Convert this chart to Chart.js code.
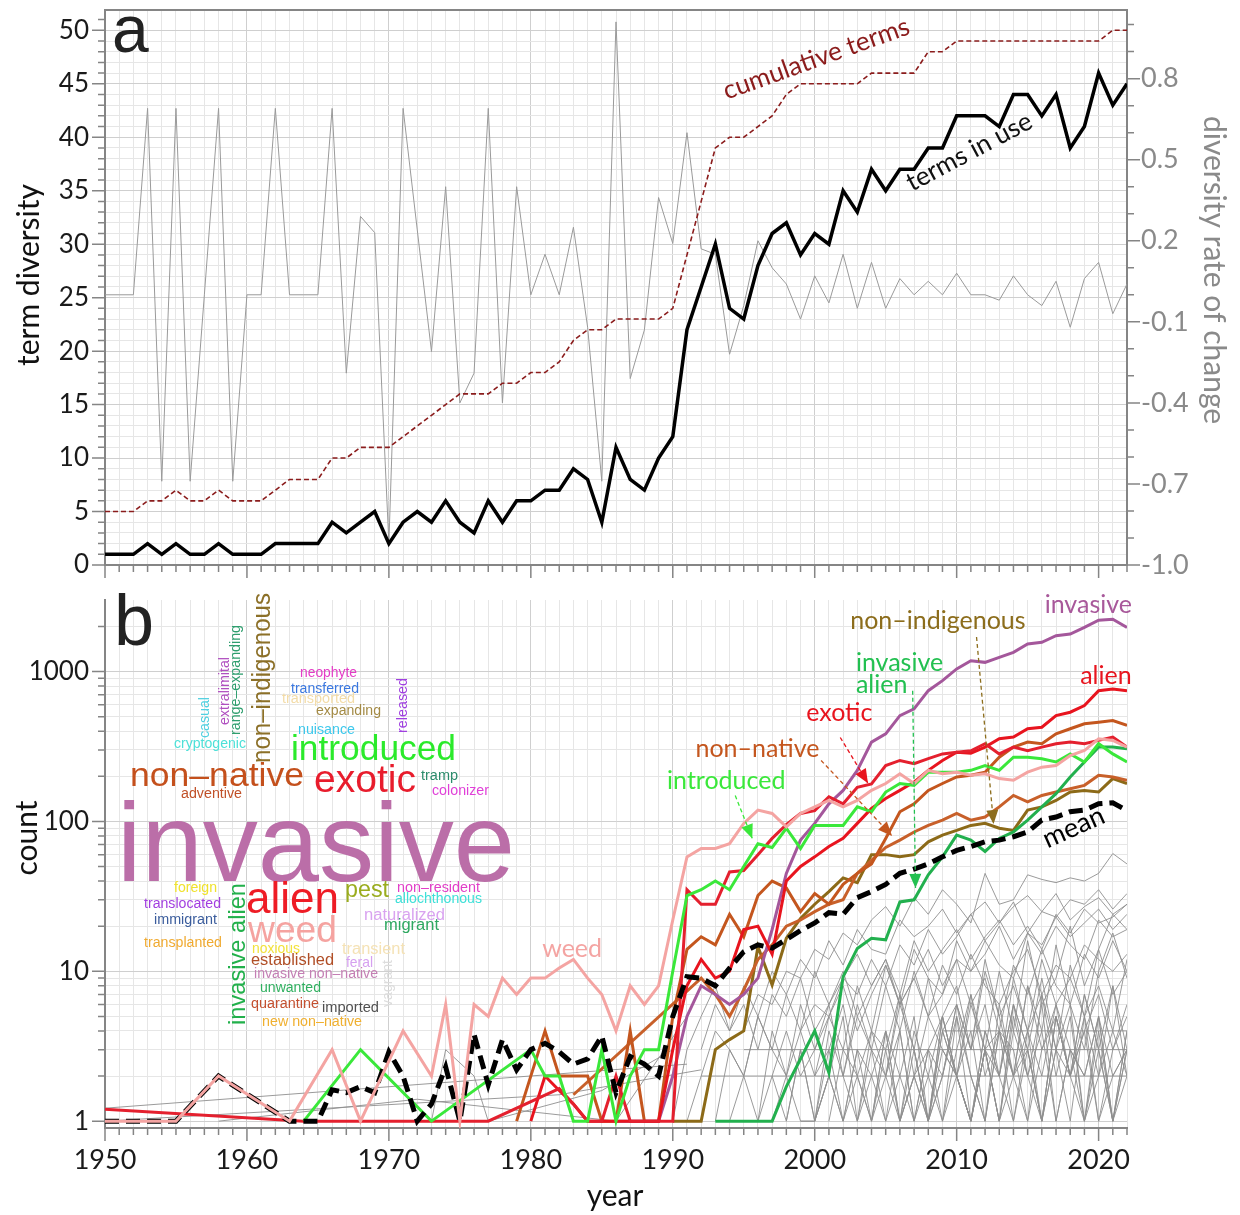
<!DOCTYPE html>
<html>
<head>
<meta charset="utf-8">
<script src="https://cdn.jsdelivr.net/npm/chart.js@4.4.1/dist/chart.umd.min.js"></script>
<style>
  html, body { margin: 0; padding: 0; background: #fff; }
  #wrap { position: relative; width: 1240px; height: 1215px; }
  canvas { position: absolute; left: 0; }
  #top { top: 0; }
  #bot { top: 590px; }
</style>
</head>
<body>
<div id="wrap">
  <canvas id="top" width="1240" height="590"></canvas>
  <canvas id="bot" width="1240" height="625"></canvas>
</div>
<script>
console.log("chart script loaded")

// ---- panel a : term diversity per year ----
var firstYear = 1950, lastYear = 2022;
var years = [];
for (var y = firstYear; y <= lastYear; y++) years.push(y);

var termsInUse = [1,1,1,2,1,2,1,1,2,1, 1,1,2,2,2,2,4,3,4,5, 2,4,5,4,6,4,3,6,4,6,
  6,7,7,9,8,4,11,8,7,10, 12,22,26,30,24,23,28,31,32,29, 31,30,35,33,37,35,37,37,39,39,
  42,42,42,41,44,44,42,44,39,41, 46,43,45];
var cumulativeTerms = [5,5,5,6,6,7,6,6,7,6, 6,6,7,8,8,8,10,10,11,11, 11,12,13,14,15,16,16,16,17,17,
  18,18,19,21,22,22,23,23,23,23, 24,29,34,39,40,40,41,42,44,45, 45,45,45,45,46,46,46,46,48,48,
  49,49,49,49,49,49,49,49,49,49, 49,50,50];
var rateOfChange = [0,0,0,0.69,-0.69,0.69,-0.69,0,0.69,-0.69, 0,0,0.69,0,0,0,0.69,-0.29,0.29,0.23,
  -0.92,0.69,0.24,-0.21,0.4,-0.4,-0.29,0.69,-0.4,0.4, 0,0.15,0,0.25,-0.12,-0.69,1.01,-0.31,-0.13,0.36,
  0.19,0.6,0.17,0.15,-0.22,-0.04,0.2,0.1,0.04,-0.09, 0.07,-0.03,0.15,-0.05,0.12,-0.05,0.06,0,0.05,0,
  0.08,0,0,-0.02,0.07,0,-0.04,0.05,-0.12,0.06, 0.12,-0.07,0.04];

var diversityLabels = [0,5,10,15,20,25,30,35,40,45,50];
var rateLabels = [-1.0,-0.7,-0.4,-0.1,0.2,0.5,0.8];
var decadeLabels = [1950,1960,1970,1980,1990,2000,2010,2020];

// ---- panel b : counts per term (null = not recorded that year) ----
var weedStart = 1950;
var weed = [1,1,1,1,1,1,null,null,2,null, null,null,null,1,null,null,3,null,1,null,
  null,4,null,2,6,1,6,5,9,7, 9,9,10.5,12,9,7,4,8,6,8, 22,58,66,66,71,97,119,113,92,113,
  125,138,125,138,161,179,208,179,219,208, 213,203,208,193,188,213,230,236,275,297, 356,347,313];
var meanStart = 1950;
var meanCount = [1,1,1,1,1,1,null,null,2,null, null,null,null,1,1,1,1.62,1.55,1.7,1.55,
  2.9,2,1,1.3,2.3,1,3.8,1.75,3.5,2.2, 3,3.3,2.9,2.4,2.6,3.7,1.55,2.7,2.4,2,
  5,9.2,9,8,10.5,13.5,15,14.3,16.3,18.7, 21,24.6,24,31,34,38,45,48,52,58,
  64,68,73,75,79,85,102,107,116,119, 131,133,118];
var exoticStart = 1950;
var exotic = [1.2,null,null,null,null,null,null,null,null,null, null,null,null,null,1,1,1,1,1,1,
  1,1,1,1,1,1,1,1,null,null, null,null,1.65,1.3,1,1,2,1,1,1,
  1,35,28,28,46,47,60,77,95,113, 118,146,131,169,178,236,255,243,262,282,
  289,296,330,282,313,296,313,330,338,330, 347,365,313];
var alienStart = 1980;
var alien = [1,2,1.6,1.3,1,1,1,1,1,1, 3,8,12,9,10,19,20,13,40,50, 58,68,77,97,122,142,161,183,219,255,
  289,285,313,356,365,415,425,508,535,593, 745,765,745];
var invasiveStart = 1986;
var invasive = [1,1,1,1,2,5,8,7,6,7, 9,19,45,75,97,131,161,219,338,384, 508,563,745,869,1040,1180,1151,1241,1343,1525,
  1565,1734,1778,1968,2200,2234,1968];
var introducedStart = 1964;
var introduced = [1,null,null,null,3,null,null,null,null,1, null,null,null,null,null,null,3,2,2,1,
  1,3,1,2,3,3,10,32,35,40, 35,50,71,67,90,66,94,94,94,125, 116,157,179,174,213,213,213,219,236,219,
  268,268,262,249,282,249,330,282,249];
var invasiveAlienStart = 1993;
var invasiveAlien = [1,1,1,1,1,1.7,2.6,4,2.1,9.2, 14.2,16.6,16.2,29,30,44,58,81,75,63, 77,85,102,125,153,198,249,313,313,305];
var nonIndigenousStart = 1990;
var nonIndigenous = [1,1,1,3,3.5,4,14.6,8.1,16.6,22.5, 28,34,42,39,60,60,58,60,73,81, 87,94,97,90,87,119,125,138,157,161, 157,193,179];
var nonNativeStart = 1979;
var nonNative = [1,null,4,2,2,2,1,1,4,1, 1,5,14,17,15,24,17,32,40,36, 25,33,28,38,45,52,77,116,131,161,
  179,198,203,213,268,313,338,330,384,415, 448,459,471,437];
var establishedStart = 1983;
var established = [1.5,null,null,null,null,null,null,null,null,9, 7,5,7.5,12,15,20,22,25,28,30,
  45,55,67,75,85,94,102,113,102,107, 125,149,135,149,157,165,174,203,198,188];

// the many rarer terms: [first year, yearly counts]
var otherTerms = [
  [1995, [4,7,6,10,9,14,12,18,15,22,27,20,31,24,35,28,21,45,28,30,44,41,39,42,40,45,61,52]],
  [1992, [3,6,4,8,5,10,7,12,9,16,11,19,14,13,22,17,20,26,18,24,29,21,27,32,25,23,30,28,35,26,33]],
  [1993, [1,3,2,5,3,7,4,10,6,9,13,8,12,7,16,10,14,19,12,17,22,15,20,14,24,18,26,21,23,28]],
  [1994, [1,2,1,4,2,6,3,5,8,4,7,11,6,9,14,8,12,10,16,11,9,18,13,20,15,12,22,17,19]],
  [1996, [1,2,4,2,3,6,2,5,3,8,4,10,5,7,12,6,9,4,11,7,14,8,6,13,9,16,10]],
  [1997, [2,1,3,1,4,2,6,3,2,7,3,9,4,6,3,10,5,8,4,12,6,9,5,14,7,10]],
  [1998, [1,3,1,2,5,1,4,2,6,3,1,5,8,3,6,2,9,4,7,3,11,5,8,4,12]],
  [2000, [1,2,1,3,1,2,4,1,3,2,5,1,4,2,6,3,1,5,2,7,3,1,4]],
  [2001, [1,3,2,1,4,2,1,3,5,2,1,4,2,6,3,1,5,2,4,1,3,6]],
  [2002, [2,1,3,1,2,5,1,3,2,4,1,6,2,3,1,5,2,7,3,1,4]],
  [2003, [1,2,4,1,3,1,2,6,2,1,4,3,1,7,2,5,1,3,8,2]],
  [2004, [1,3,1,2,1,4,2,1,3,1,5,2,1,3,6,1,2,4,2]],
  [2005, [2,1,4,2,1,3,7,2,4,1,3,9,3,1,5,2,8,3]],
  [2006, [1,2,1,5,2,1,3,1,4,2,6,1,3,2,5,1,3]],
  [1999, [1,1,2,1,3,2,1,4,1,2,5,2,1,3,1,6,2,4,1,3,2,5,1,2]],
  [1997, [1,2,1,1,3,1,2,1,4,1,2,3,1,5,2,1,4,2,1,3,6,2,1,4,1,3]],
  [2007, [3,1,2,6,3,12,5,2,8,4,15,6,3,10,18,9]],
  [2008, [1,4,2,7,3,10,4,16,6,9,20,8,14,24,19]],
  [1999, [4,6,5,9,7,12,8,15,11,19,13,17,24,16,21,29,18,25,33,22,27,31,24,28]],
  [2000, [2,5,3,8,4,11,6,14,9,7,16,10,13,20,12,18,15,23,17,21,26,19,24]],
  [2009, [1,2,1,3,2,1,4,2,6,3,1,5,2,3]],
  [2010, [2,1,3,1,2,4,1,3,2,5,1,2,3]],
  [1990, [1,3,5,8,4,6,3,7,5,9,4,6,10,5,8,12,6,9,5,11,7,13,8,6,10,14,7,11,9,15,12,10,13]],
  [1991, [1,2,4,3,2,5,3,2,4,2,3,6,2,4,3,7,2,5,3,2,6,3,4,2,8,3,5,2,4,7,3,5]]
];
// terms recorded only in a few scattered years: [year, count] pairs
var sparseTerms = [
  [[1950,1.22],[1991,2.4]],
  [[1950,1],[1982,1.5],[1992,2.2]],
  [[1992,2],[2022,2]],
  [[1995,3],[2022,3]],
  [[2009,4],[2022,4]],
  [[1973,1],[1974,3],[1976,2],[1977,1],[1985,1.6],[1990,3]],
  [[1958,1],[1972,1.4],[1986,1],[1991,5]]
];
var countLabels = [1,10,100,1000];
var countGrid = [1,2,3,4,5,6,7,8,9,10,20,30,40,50,60,70,80,90,100,200,300,400,500,600,700,800,900,1000,2000];

Chart.defaults.font.family = 'Lato';

function pts(start, vals) {
  return vals.map(function (v, i) { return { x: start + i, y: v }; });
}
function pairs(list) {
  return list.map(function (p) { return { x: p[0], y: p[1] }; });
}
function isOn(list, v) {
  return list.some(function (l) { return Math.abs(l - v) < 1e-6; });
}
function fixBox(w, h) {
  return function (s) {
    if (w != null) s.width = w;
    if (h != null) s.height = h;
    s.paddingTop = 0; s.paddingBottom = 0; s.paddingLeft = 0; s.paddingRight = 0;
  };
}
var gridMinor = '#e6e6e6', gridMajor = '#cfcfcf', axisGrey = '#858585';
var tickFontSize = 26;

// small and large tick marks on the outside of the axes
function tickMarks(spec, topBorder) {
  return {
    id: 'tickMarks',
    afterDraw: function (chart) {
      var ctx = chart.ctx, a = chart.chartArea;
      ctx.save();
      ctx.strokeStyle = axisGrey;
      ctx.lineWidth = 1.5;
      ctx.beginPath();
      spec.forEach(function (s) {
        var sc = chart.scales[s.id];
        s.values.forEach(function (v) {
          var p = sc.getPixelForValue(v);
          var len = s.major(v) ? 13 : 7;
          if (s.side === 'bottom') { ctx.moveTo(p, a.bottom); ctx.lineTo(p, a.bottom + len); }
          if (s.side === 'left') { ctx.moveTo(a.left, p); ctx.lineTo(a.left - len, p); }
          if (s.side === 'right') { ctx.moveTo(a.right, p); ctx.lineTo(a.right + len, p); }
        });
      });
      ctx.stroke();
      if (topBorder) {
        ctx.lineWidth = 2;
        ctx.beginPath();
        ctx.moveTo(a.left, a.top);
        ctx.lineTo(a.right, a.top);
        ctx.stroke();
      }
      ctx.restore();
    }
  };
}

function drawTitle(ctx, text, x, y, rot, color, size) {
  ctx.save();
  ctx.font = size + 'px Lato';
  ctx.fillStyle = color;
  ctx.textAlign = 'center';
  ctx.textBaseline = 'middle';
  ctx.translate(x, y);
  ctx.rotate(rot);
  ctx.fillText(text, 0, 0);
  ctx.restore();
}

function rotLabel(ctx, text, x, y, deg, color, size) {
  ctx.save();
  ctx.font = size + 'px Lato';
  ctx.fillStyle = color;
  ctx.textAlign = 'left';
  ctx.textBaseline = 'alphabetic';
  ctx.translate(x, y);
  ctx.rotate(deg * Math.PI / 180);
  ctx.fillText(text, 0, 0);
  ctx.restore();
}

var yearTickValues = years.slice();
var diversityTickValues = [];
for (var d = 0; d <= 51; d++) diversityTickValues.push(d);
var rateTickValues = [];
for (var r = -10; r <= 10; r++) rateTickValues.push(r / 10);

var topDecor = {
  id: 'topDecor',
  afterDatasetsDraw: function (chart) {
    var ctx = chart.ctx, x = chart.scales.x, yl = chart.scales.y;
    rotLabel(ctx, 'cumulative terms', x.getPixelForValue(1993.8), yl.getPixelForValue(43.5), -19.8, '#8b1c1c', 26);
    rotLabel(ctx, 'terms in use', x.getPixelForValue(2006.85), yl.getPixelForValue(34.9), -28, '#111', 26);
  },
  afterDraw: function (chart) {
    var ctx = chart.ctx, a = chart.chartArea;
    ctx.save();
    ctx.font = '66px "Liberation Sans"';
    ctx.fillStyle = '#222';
    ctx.fillText('a', a.left + 7, a.top + 42);
    ctx.restore();
    drawTitle(ctx, 'term diversity', 29, 275, -Math.PI / 2, '#111', 30);
    drawTitle(ctx, 'diversity rate of change', 1214, 270, Math.PI / 2, '#8a8a8a', 30);
  }
};

new Chart(document.getElementById('top'), {
  type: 'line',
  data: {
    datasets: [
      { label: 'terms in use', data: pts(firstYear, termsInUse), yAxisID: 'y',
        borderColor: '#000', borderWidth: 3.5, pointRadius: 0 },
      { label: 'cumulative terms', data: pts(firstYear, cumulativeTerms), yAxisID: 'y',
        borderColor: '#8b1c1c', borderWidth: 1.6, borderDash: [5, 3], pointRadius: 0 },
      { label: 'diversity rate of change', data: pts(firstYear, rateOfChange), yAxisID: 'y2',
        borderColor: '#9a9a9a', borderWidth: 1, pointRadius: 0 }
    ]
  },
  options: {
    responsive: false,
    animation: false,
    events: [],
    layout: { padding: { top: 10, left: 0, right: 0, bottom: 0 } },
    plugins: { legend: { display: false }, tooltip: { enabled: false } },
    scales: {
      x: {
        type: 'linear', min: firstYear, max: lastYear,
        ticks: { stepSize: 1, display: false, autoSkip: false },
        grid: { drawTicks: false, color: function (c) { return c.tick && c.tick.value % 10 === 0 ? gridMajor : gridMinor; } },
        border: { color: axisGrey, width: 2 },
        afterFit: fixBox(null, 25)
      },
      y: {
        position: 'left', min: 0, max: 51.9,
        ticks: { stepSize: 1, autoSkip: false, padding: 16, color: '#1a1a1a', font: { size: tickFontSize },
          callback: function (v) { return isOn(diversityLabels, v) ? String(v) : ''; } },
        grid: { drawTicks: false, color: function (c) { return c.tick && c.tick.value % 5 === 0 ? gridMajor : gridMinor; } },
        border: { color: axisGrey, width: 2 },
        afterFit: fixBox(105, null)
      },
      y2: {
        position: 'right', min: -1, max: 1.054,
        ticks: { stepSize: 0.1, autoSkip: false, padding: 14, color: '#8a8a8a', font: { size: 27 },
          callback: function (v) { return isOn(rateLabels, v) ? v.toFixed(1) : ''; } },
        grid: { drawTicks: false, drawOnChartArea: false },
        border: { color: axisGrey, width: 2 },
        afterFit: fixBox(113, null)
      }
    }
  },
  plugins: [tickMarks([
    { id: 'x', side: 'bottom', values: yearTickValues, major: function (v) { return v % 10 === 0; } },
    { id: 'y', side: 'left', values: diversityTickValues, major: function (v) { return v % 5 === 0; } },
    { id: 'y2', side: 'right', values: rateTickValues, major: function (v) { return isOn(rateLabels, v); } }
  ], true), topDecor]
});

// ---- word cloud of all terms (page coordinates) ----
// horizontal: [text, colour, left, right, baseline, size]
// vertical:   [text, colour, bottom, top, baseline x, size, 'v']
var cloudWords = [
  ['neophyte', '#e43cc6', 300, 357, 677, 14],
  ['transferred', '#3b78e0', 291, 359, 693, 14],
  ['transported', '#f3dca8', 282, 355, 703, 14],
  ['expanding', '#a38a45', 316, 381, 715, 14],
  ['nuisance', '#3cc8ec', 298, 355, 734, 14],
  ['cryptogenic', '#4de0d8', 174, 246, 748, 14],
  ['introduced', '#2bea2b', 291, 456, 760, 35],
  ['non–native', '#c4501c', 130, 304, 786, 33],
  ['exotic', '#e81c2c', 314, 416, 792, 39],
  ['tramp', '#2c8c6c', 421, 458, 780, 14],
  ['colonizer', '#e040d8', 432, 489, 795, 14],
  ['adventive', '#c05028', 181, 242, 798, 14],
  ['invasive', '#bb6ea8', 117, 515, 881, 112],
  ['foreign', '#f0e22c', 174, 217, 892, 14],
  ['translocated', '#a23ee0', 144, 221, 908, 14],
  ['immigrant', '#3a5c9c', 154, 217, 924, 14],
  ['transplanted', '#f0aa30', 144, 222, 947, 14],
  ['alien', '#ee1c25', 246, 339, 913, 44],
  ['weed', '#f5a3a0', 248, 337, 942, 37],
  ['pest', '#9aac1e', 345, 389, 897, 24],
  ['non–resident', '#e23ec8', 397, 480, 892, 14],
  ['allochthonous', '#3ee0d8', 395, 482, 903, 14],
  ['naturalized', '#d9a3f0', 364, 445, 920, 16],
  ['migrant', '#2ea860', 384, 439, 930, 16],
  ['noxious', '#f2e23c', 252, 300, 953, 14],
  ['transient', '#f5e2b5', 342, 405, 954, 16],
  ['established', '#b04e26', 251, 334, 965, 16],
  ['feral', '#d6a0f0', 346, 373, 967, 15],
  ['invasive non–native', '#c47fb4', 254, 378, 978, 14],
  ['unwanted', '#30b060', 260, 321, 992, 14],
  ['quarantine', '#c45030', 251, 319, 1008, 14],
  ['imported', '#505050', 322, 379, 1012, 14],
  ['new non–native', '#f0b030', 262, 362, 1026, 14],
  ['released', '#a040e0', 733, 678, 407, 14, 'v'],
  ['casual', '#50d0e0', 738, 697, 209, 14, 'v'],
  ['extralimital', '#b050c0', 725, 657, 229, 14, 'v'],
  ['range–expanding', '#2e9e6e', 735, 625, 240, 14, 'v'],
  ['non–indigenous', '#8c7028', 763, 593, 270, 25, 'v'],
  ['invasive alien', '#22b04b', 1025, 883, 245, 24, 'v'],
  ['vagrant', '#dcdcdc', 1007, 960, 392, 14, 'v']
];

var lineLabels = [
  ['invasive', '#a8589a', 2016.2, 2461],
  ['non–indigenous', '#8c6d1c', 2002.5, 1920],
  ['invasive', '#22c050', 2002.9, 1009],
  ['alien', '#22c050', 2002.9, 722],
  ['alien', '#e8141e', 2018.7, 830],
  ['exotic', '#e8141e', 1999.4, 471],
  ['non–native', '#c4561e', 1991.6, 267],
  ['introduced', '#3ae83a', 1989.6, 164],
  ['weed', '#f4a4a2', 1980.8, 12.5]
];
var labelArrows = [
  ['#3ae83a', 1994.4, 149, 1995.6, 77],
  ['#c4561e', 2000.45, 255, 2005.45, 80],
  ['#e8141e', 2001.8, 363, 2003.75, 180],
  ['#22c050', 2006.9, 745, 2007.1, 36],
  ['#8c6d1c', 2011.4, 1700, 2012.6, 96]
];

function arrow(ctx, x1, y1, x2, y2, color) {
  ctx.save();
  ctx.strokeStyle = color;
  ctx.fillStyle = color;
  ctx.lineWidth = 1.3;
  ctx.setLineDash([4, 3]);
  ctx.beginPath();
  ctx.moveTo(x1, y1);
  ctx.lineTo(x2, y2);
  ctx.stroke();
  ctx.setLineDash([]);
  var ang = Math.atan2(y2 - y1, x2 - x1), L = 14, W = 6;
  ctx.beginPath();
  ctx.moveTo(x2, y2);
  ctx.lineTo(x2 - L * Math.cos(ang) + W * Math.sin(ang), y2 - L * Math.sin(ang) - W * Math.cos(ang));
  ctx.lineTo(x2 - L * Math.cos(ang) - W * Math.sin(ang), y2 - L * Math.sin(ang) + W * Math.cos(ang));
  ctx.closePath();
  ctx.fill();
  ctx.restore();
}

var botTop = 590;
var botDecor = {
  id: 'botDecor',
  beforeDatasetsDraw: function (chart) {
    var ctx = chart.ctx;
    cloudWords.forEach(function (w) {
      ctx.save();
      ctx.font = w[5] + 'px "Liberation Sans"';
      ctx.fillStyle = w[1];
      ctx.textBaseline = 'alphabetic';
      var m = ctx.measureText(w[0]).width;
      if (w[6] === 'v') {
        ctx.translate(w[4], w[2] - botTop);
        ctx.rotate(-Math.PI / 2);
        ctx.scale((w[2] - w[3]) / m, 1);
      } else {
        ctx.translate(w[2], w[4] - botTop);
        ctx.scale((w[3] - w[2]) / m, 1);
      }
      ctx.fillText(w[0], 0, 0);
      ctx.restore();
    });
  },
  afterDatasetsDraw: function (chart) {
    var ctx = chart.ctx, x = chart.scales.x, yl = chart.scales.y;
    labelArrows.forEach(function (a) {
      arrow(ctx, x.getPixelForValue(a[1]), yl.getPixelForValue(a[2]), x.getPixelForValue(a[3]), yl.getPixelForValue(a[4]), a[0]);
    });
    lineLabels.forEach(function (l) {
      rotLabel(ctx, l[0], x.getPixelForValue(l[2]), yl.getPixelForValue(l[3]), 0, l[1], 25);
    });
    rotLabel(ctx, 'mean', x.getPixelForValue(2016.4), yl.getPixelForValue(66), -24, '#000', 27);
  },
  afterDraw: function (chart) {
    var ctx = chart.ctx, a = chart.chartArea;
    ctx.save();
    ctx.font = '72px "Liberation Sans"';
    ctx.fillStyle = '#222';
    ctx.fillText('b', a.left + 9, 645 - botTop);
    ctx.restore();
    drawTitle(ctx, 'count', 27, 838 - botTop, -Math.PI / 2, '#111', 30);
    drawTitle(ctx, 'year', 615, 1196 - botTop, 0, '#111', 30);
  }
};

function termLine(label, data, color, width, extra) {
  var ds = { label: label, data: data, borderColor: color, borderWidth: width, pointRadius: 0, spanGaps: true };
  if (extra) for (var k in extra) ds[k] = extra[k];
  return ds;
}

var botSets = [
  termLine('weed', pts(weedStart, weed), '#f4a4a2', 3),
  termLine('mean', pts(meanStart, meanCount), '#000', 5, { borderDash: [14, 7] }),
  termLine('introduced', pts(introducedStart, introduced), '#3ae83a', 3),
  termLine('invasive alien', pts(invasiveAlienStart, invasiveAlien), '#22b04e', 3),
  termLine('exotic', pts(exoticStart, exotic), '#e4202e', 3),
  termLine('alien', pts(alienStart, alien), '#e8141e', 3),
  termLine('invasive', pts(invasiveStart, invasive), '#a4579b', 3),
  termLine('non-native', pts(nonNativeStart, nonNative), '#c4561e', 3),
  termLine('established', pts(establishedStart, established), '#c8602a', 3),
  termLine('non-indigenous', pts(nonIndigenousStart, nonIndigenous), '#8c6a18', 3)
];
otherTerms.forEach(function (t, i) {
  botSets.push(termLine('other ' + i, pts(t[0], t[1]), '#8f8f8f', 0.9));
});
sparseTerms.forEach(function (t, i) {
  botSets.push(termLine('sparse ' + i, pairs(t), '#8f8f8f', 0.9));
});

new Chart(document.getElementById('bot'), {
  type: 'line',
  data: { datasets: botSets },
  options: {
    responsive: false,
    animation: false,
    events: [],
    layout: { padding: { top: 10, left: 0, right: 113, bottom: 0 } },
    plugins: { legend: { display: false }, tooltip: { enabled: false } },
    scales: {
      x: {
        type: 'linear', min: firstYear, max: lastYear,
        ticks: { stepSize: 1, autoSkip: false, maxRotation: 0, padding: 16, color: '#1a1a1a', font: { size: 27 },
          callback: function (v) { return isOn(decadeLabels, v) ? String(v) : ''; } },
        grid: { drawTicks: false, color: function (c) { return c.tick && c.tick.value % 10 === 0 ? gridMajor : gridMinor; } },
        border: { color: axisGrey, width: 2 },
        afterFit: fixBox(null, 87)
      },
      y: {
        type: 'logarithmic', min: 0.9, max: 3000,
        afterBuildTicks: function (s) { s.ticks = countGrid.map(function (v) { return { value: v }; }); },
        ticks: { autoSkip: false, padding: 16, color: '#1a1a1a', font: { size: tickFontSize },
          callback: function (v) { return isOn(countLabels, v) ? String(v) : ''; } },
        grid: { drawTicks: false, color: function (c) { return c.tick && isOn(countLabels, c.tick.value) ? gridMajor : gridMinor; } },
        border: { color: axisGrey, width: 2 },
        afterFit: fixBox(105, null)
      }
    }
  },
  plugins: [tickMarks([
    { id: 'x', side: 'bottom', values: yearTickValues, major: function (v) { return v % 10 === 0; } },
    { id: 'y', side: 'left', values: countGrid, major: function (v) { return isOn(countLabels, v); } }
  ], false), botDecor]
});
</script>
</body>
</html>
